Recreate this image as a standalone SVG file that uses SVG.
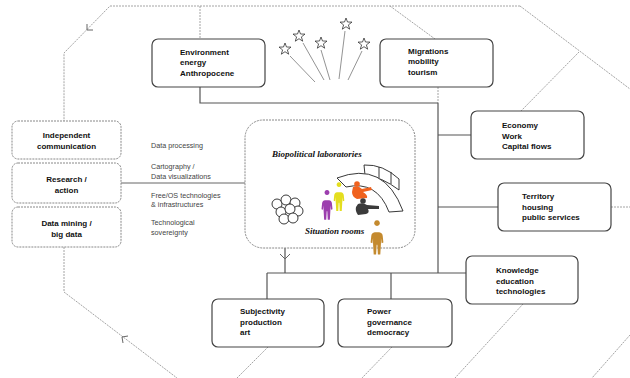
<svg xmlns="http://www.w3.org/2000/svg" width="630" height="378" viewBox="0 0 630 378">
  <style>
    .frame { fill: none; stroke: #9a9a9a; stroke-width: 0.9; stroke-dasharray: 2 1; }
    .link { fill: none; stroke: #555; stroke-width: 1.2; }
    .thin { fill: none; stroke: #666; stroke-width: 1; }
    .box { fill: #fff; stroke: #444; stroke-width: 1.2; }
    .dbox { fill: #fff; stroke: #888; stroke-width: 1; stroke-dasharray: 2 1; }
    .lbl { font-family: "Liberation Sans", Arial, sans-serif; font-size: 8px; font-weight: bold; fill: #111; }
    .side { font-family: "Liberation Sans", Arial, sans-serif; font-size: 7.2px; fill: #444; }
    .lab { font-family: "Liberation Serif", "Times New Roman", serif; font-size: 9px; font-weight: bold; font-style: italic; fill: #111; }
    .star { fill: #fff; stroke: #333; stroke-width: 0.8; }
    .ray { stroke: #777; stroke-width: 0.8; }
  </style>
  <defs>
    <polygon id="star" points="0,-6 1.5,-2 6,-1.9 2.4,0.9 3.7,5.2 0,2.7 -3.7,5.2 -2.4,0.9 -6,-1.9 -1.5,-2"/>
    <path id="person" d="M0,0 a2.6,2.6 0 1 1 0.01,0 Z M-2,5.6 L2,5.6 Q5,6 5.2,9 L5.8,15 L4.2,15.6 L3.6,11 L3.6,16 L3,26 L0.8,26 L0.3,17 L-0.3,17 L-0.8,26 L-3,26 L-3.6,16 L-3.6,11 L-4.2,15.6 L-5.8,15 L-5.2,9 Q-5,6 -2,5.6 Z"/>
  </defs>

  <rect width="630" height="378" fill="#fff"/>

  <!-- outer frame of dashed lines -->
  <g id="frame">
    <path class="frame" d="M520,6 L110,6 L64,53 L64,121"/>
    <path class="frame" d="M64,247 L64,292 L177,378"/>
    <path class="frame" d="M520,6 L630,89"/>
    <path class="frame" d="M390,6 L435,39"/>
    <path class="frame" d="M200,6 L200,39"/>
    <path class="frame" d="M579,52 L521,111"/>
    <path class="frame" d="M611,207 L630,207"/>
    <path class="frame" d="M268,347 L237,378"/>
    <path class="frame" d="M392,347 L362,378"/>
    <path class="frame" d="M523,304 L455,378"/>
    <path class="frame" d="M630,335 L592,378"/>
    <path class="frame" d="M438,87 L438,103"/>
    <polyline class="thin" points="87,24 87,30 93,30" stroke="#888"/>
    <polyline class="thin" points="128,336 122,337 123,343" stroke="#888"/>
  </g>

  <!-- connectors -->
  <g id="connectors">
    <polyline class="link" points="200,87 200,103 438,103"/>
    <line class="link" x1="438" y1="103" x2="438" y2="273"/>
    <line class="link" x1="438" y1="135" x2="471" y2="135"/>
    <line class="link" x1="438" y1="207" x2="498" y2="207"/>
    <line class="link" x1="267" y1="273" x2="466" y2="273"/>
    <line class="link" x1="267" y1="273" x2="267" y2="299"/>
    <line class="link" x1="391" y1="273" x2="391" y2="299"/>
    <line class="link" x1="285" y1="224" x2="285" y2="273"/>
    <polyline class="thin" points="280,254 285,259 290,254"/>
    <line class="thin" x1="121" y1="183" x2="303.5" y2="183"/>
    <circle cx="307" cy="183" r="3.5" fill="#fff" stroke="#555" stroke-width="1"/>
  </g>

  <!-- fireworks -->
  <g id="stars">
    <line class="ray" x1="290" y1="56" x2="315" y2="82"/>
    <line class="ray" x1="303" y1="43" x2="324" y2="80"/>
    <line class="ray" x1="321" y1="50" x2="330" y2="80"/>
    <line class="ray" x1="345" y1="31" x2="339" y2="79"/>
    <line class="ray" x1="362" y1="51" x2="348" y2="80"/>
    <use href="#star" class="star" x="285" y="49"/>
    <use href="#star" class="star" x="299" y="36"/>
    <use href="#star" class="star" x="321" y="43"/>
    <use href="#star" class="star" x="346" y="24"/>
    <use href="#star" class="star" x="364" y="44"/>
  </g>

  <g id="environment">
    <rect class="box" x="152" y="39" width="113" height="48" rx="6"/>
    <text class="lbl" x="180" y="55">Environment</text>
    <text class="lbl" x="180" y="65">energy</text>
    <text class="lbl" x="180" y="75.5">Anthropocene</text>
  </g>

  <g id="migrations">
    <rect class="box" x="380" y="39" width="113" height="48" rx="6"/>
    <text class="lbl" x="408" y="54">Migrations</text>
    <text class="lbl" x="408" y="64">mobility</text>
    <text class="lbl" x="408" y="74.5">tourism</text>
  </g>

  <g id="economy">
    <rect class="box" x="471" y="111" width="113" height="48" rx="6"/>
    <text class="lbl" x="502" y="128">Economy</text>
    <text class="lbl" x="502" y="138.5">Work</text>
    <text class="lbl" x="502" y="149">Capital flows</text>
  </g>

  <g id="territory">
    <rect class="box" x="498" y="183" width="113" height="48" rx="6"/>
    <text class="lbl" x="522" y="199">Territory</text>
    <text class="lbl" x="522" y="209.5">housing</text>
    <text class="lbl" x="522" y="220">public services</text>
  </g>

  <g id="knowledge">
    <rect class="box" x="466" y="256" width="112" height="48" rx="6"/>
    <text class="lbl" x="496" y="273">Knowledge</text>
    <text class="lbl" x="496" y="283.5">education</text>
    <text class="lbl" x="496" y="294">technologies</text>
  </g>

  <g id="power">
    <rect class="box" x="338" y="299" width="114" height="48" rx="6"/>
    <text class="lbl" x="367" y="314">Power</text>
    <text class="lbl" x="367" y="324.5">governance</text>
    <text class="lbl" x="367" y="335">democracy</text>
  </g>

  <g id="subjectivity">
    <rect class="box" x="212" y="299" width="112" height="48" rx="6"/>
    <text class="lbl" x="240" y="314">Subjectivity</text>
    <text class="lbl" x="240" y="324.5">production</text>
    <text class="lbl" x="240" y="335">art</text>
  </g>

  <g id="independent-communication">
    <rect class="dbox" x="12" y="121" width="109" height="38" rx="6"/>
    <text class="lbl" x="66.5" y="138" text-anchor="middle">Independent</text>
    <text class="lbl" x="66.5" y="149" text-anchor="middle">communication</text>
  </g>

  <g id="research-action">
    <rect class="dbox" x="12" y="163" width="109" height="40" rx="6"/>
    <text class="lbl" x="66.5" y="182" text-anchor="middle">Research /</text>
    <text class="lbl" x="66.5" y="193" text-anchor="middle">action</text>
  </g>

  <g id="data-mining">
    <rect class="dbox" x="12" y="207" width="109" height="40" rx="6"/>
    <text class="lbl" x="66.5" y="226" text-anchor="middle">Data mining /</text>
    <text class="lbl" x="66.5" y="236.5" text-anchor="middle">big data</text>
  </g>

  <g id="tools">
    <text class="side" x="151" y="148">Data processing</text>
    <text class="side" x="151" y="169">Cartography /</text>
    <text class="side" x="151" y="179">Data visualizations</text>
    <text class="side" x="151" y="198">Free/OS technologies</text>
    <text class="side" x="151" y="207">&amp; infrastructures</text>
    <text class="side" x="151" y="225">Technological</text>
    <text class="side" x="151" y="235">sovereignty</text>
  </g>

  <g id="biopolitical-laboratories">
    <rect class="dbox" x="245" y="120" width="170" height="128" rx="18"/>
    <text class="lab" x="272" y="157">Biopolitical laboratories</text>
    <text class="lab" x="305" y="234">Situation rooms</text>

    <!-- flower of bubbles -->
    <g fill="#fff" stroke="#222" stroke-width="0.9">
      <circle cx="277" cy="204" r="5"/>
      <circle cx="286" cy="200" r="5"/>
      <circle cx="295" cy="203" r="5"/>
      <circle cx="298" cy="211" r="5"/>
      <circle cx="281" cy="212" r="5"/>
      <circle cx="290" cy="209" r="5"/>
      <circle cx="284" cy="219" r="5"/>
      <circle cx="293" cy="218" r="5"/>
    </g>

    <!-- curved control desk -->
    <g fill="#fff" stroke="#222" stroke-width="0.9" stroke-linejoin="round">
      <path d="M364,165 Q383,164 399,179 L399,190 Q382,177 365,175 Z"/>
      <line x1="379" y1="167" x2="379" y2="178"/>
      <line x1="391" y1="172" x2="391" y2="184"/>
      <path d="M337,178 Q384,160 403,211 L389,212 Q377,180 346,187 Z"/>
    </g>

    <!-- people -->
    <use href="#person" fill="#9c3fae" transform="translate(327,195) scale(0.95)"/>
    <use href="#person" fill="#e4de1e" transform="translate(339,187) scale(0.92)"/>
    <use href="#person" fill="#c48a2e" transform="translate(377,226) scale(1.1)"/>
    <g fill="#f0621e">
      <circle cx="357" cy="184" r="2.8"/>
      <path d="M353,187 Q358,185 362,189 L371,187 L372,190 L363,192 Q368,195 367,198 L357,199 Q352,197 352,192 Z"/>
    </g>
    <g fill="#3b3b3b">
      <circle cx="363" cy="201" r="2.8"/>
      <path d="M358,204 Q363,202 367,205 L379,206 L379,209 L368,209 Q370,213 366,214 L358,215 Q355,211 356,207 Z"/>
    </g>
  </g>
</svg>
